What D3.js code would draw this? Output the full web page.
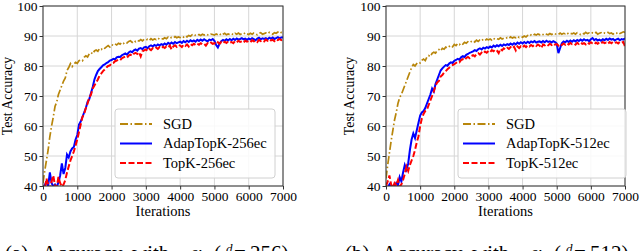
<!DOCTYPE html>
<html>
<head>
<meta charset="utf-8">
<script src="https://cdn.jsdelivr.net/npm/d3@7"></script>
<style>
  body { margin: 0; background: white; }
  svg text { font-family: "Liberation Serif", "Times New Roman", Times, "DejaVu Serif", serif; }
</style>
</head>
<body>
<svg id="chart" width="640" height="251"></svg>
<script>
// iterations sampled every 50 steps, 0..7000
const iterStep = 50
const xTicks = [0, 1000, 2000, 3000, 4000, 5000, 6000, 7000]
const yTicks = [40, 50, 60, 70, 80, 90, 100]
const serif = "'Liberation Serif', 'Times New Roman', Times, 'DejaVu Serif', serif"

// --- panel (a), 256ec ---
const sgdA = [
    41.0, 45.0, 48.5, 52.0, 56.5, 60.0, 63.0, 66.5, 68.0, 70.5,
    72.0, 73.5, 75.0, 76.0, 78.5, 79.5, 80.8, 79.8, 80.6, 81.2,
    80.9, 81.8, 82.0, 81.7, 82.9, 83.4, 83.0, 84.1, 84.5, 84.0,
    85.0, 85.3, 84.9, 85.8, 85.5, 86.2, 85.9, 86.4, 86.8, 86.3,
    87.1, 86.9, 87.4, 87.0, 87.6, 87.3, 87.9, 87.5, 88.0, 87.7,
    88.2, 88.4, 87.9, 88.5, 88.1, 88.6, 88.3, 88.8, 88.4, 88.9,
    88.6, 88.9, 88.5, 89.1, 88.7, 89.0, 88.8, 89.3, 88.9, 89.2,
    89.0, 89.4, 89.1, 89.6, 89.2, 89.5, 89.3, 89.8, 89.4, 89.7,
    89.5, 89.9, 89.6, 90.1, 89.7, 90.2, 89.9, 90.4, 90.0, 90.3,
    90.1, 90.5, 90.2, 90.6, 90.3, 90.7, 90.4, 90.2, 90.6, 90.5,
    90.3, 90.7, 90.4, 90.8, 90.2, 90.6, 90.9, 90.4, 90.7, 90.5,
    90.8, 90.4, 90.9, 90.6, 91.0, 90.5, 90.8, 90.6, 91.1, 90.7,
    90.5, 90.9, 90.6, 91.0, 90.7, 90.4, 90.9, 91.1, 90.6, 90.8,
    91.0, 90.7, 91.2, 90.8, 90.6, 91.1, 90.9, 91.3, 90.8, 91.2,
    91.0]
const adapA = [
    39.5, 40.2, 41.5, 40.0, 44.5, 41.0, 39.8, 40.5, 39.6, 41.2,
    43.5, 47.5, 44.0, 46.0, 50.5, 49.5, 51.5, 52.5, 53.0, 55.5,
    57.0, 60.5, 61.5, 63.0, 64.5, 66.0, 68.0, 69.0, 71.0, 73.0,
    75.5, 77.0, 78.3, 79.0, 79.6, 80.2, 80.5, 81.0, 81.3, 81.8,
    82.0, 82.4, 82.2, 82.9, 83.1, 83.0, 83.6, 83.9, 84.2, 83.8,
    84.5, 84.9, 84.6, 85.2, 85.5, 85.1, 85.8, 86.0, 85.6, 86.2,
    86.4, 85.9, 86.6, 86.9, 86.5, 87.0, 86.7, 87.2, 86.8, 87.3,
    87.0, 87.5, 87.1, 87.7, 87.3, 87.8, 87.4, 88.0, 87.6, 87.9,
    88.1, 87.7, 88.3, 87.9, 88.4, 88.0, 88.6, 88.2, 88.5, 88.1,
    88.7, 88.3, 88.8, 88.4, 88.9, 88.5, 88.2, 88.8, 88.6, 89.0,
    88.4, 87.0, 86.2, 87.5, 88.3, 88.7, 88.4, 88.9, 88.5, 89.0,
    88.6, 89.1, 88.7, 89.2, 88.8, 89.0, 89.3, 88.9, 89.1, 88.7,
    89.2, 88.8, 89.3, 89.0, 88.6, 89.1, 89.4, 88.9, 89.2, 89.0,
    89.3, 88.9, 89.4, 89.1, 89.5, 89.0, 89.3, 89.6, 89.2, 89.5,
    89.6]
const topkA = [
    40.0, 38.5, 42.5, 40.5, 39.0, 41.5, 43.5, 40.2, 39.5, 43.0,
    41.0, 39.8, 40.5, 42.0, 44.5, 46.5, 48.5, 50.0, 51.5, 53.5,
    55.5, 58.0, 60.5, 63.0, 64.0, 66.0, 67.5, 69.5, 70.5, 72.5,
    73.5, 74.5, 75.5, 76.8, 77.5, 78.3, 78.8, 79.5, 80.0, 80.2,
    80.9, 81.0, 81.6, 81.8, 82.2, 82.0, 82.6, 82.9, 83.2, 82.8,
    83.5, 83.8, 83.4, 84.1, 84.4, 84.0, 84.6, 83.2, 84.9, 85.2,
    85.5, 85.0, 85.7, 85.3, 85.9, 85.6, 86.1, 85.7, 86.3, 85.9,
    86.4, 86.0, 86.6, 86.2, 86.8, 85.5, 86.5, 86.9, 86.4, 87.0,
    86.8, 86.3, 87.1, 86.7, 87.2, 86.5, 87.3, 86.9, 87.4, 87.0,
    87.5, 87.1, 87.6, 87.2, 87.4, 86.8, 87.6, 87.3, 87.8, 87.4,
    87.6, 87.2, 87.9, 87.4, 88.0, 87.6, 88.1, 87.7, 88.2, 87.8,
    88.0, 87.6, 88.3, 87.9, 88.4, 88.0, 88.2, 87.8, 88.5, 88.1,
    88.3, 87.9, 88.6, 88.2, 88.5, 88.0, 88.7, 88.3, 88.6, 88.2,
    88.8, 88.4, 88.9, 88.5, 88.7, 88.3, 88.9, 88.6, 89.0, 88.6,
    88.8]

// --- panel (b), 512ec ---
const sgdB = [
    42.5, 47.0, 51.0, 55.0, 58.5, 62.0, 64.5, 67.5, 69.5, 70.5,
    72.0, 73.5, 75.0, 76.5, 78.0, 79.5, 80.5, 80.0, 80.8, 81.3,
    81.0, 81.9, 82.3, 81.8, 83.0, 83.5, 83.1, 84.2, 84.6, 84.3,
    85.2, 85.5, 85.0, 85.9, 85.6, 86.3, 86.0, 86.5, 86.9, 86.4,
    87.2, 86.8, 87.5, 87.1, 87.7, 87.3, 87.9, 87.6, 88.1, 87.8,
    88.2, 88.5, 88.0, 88.6, 88.2, 88.7, 88.4, 88.9, 88.5, 89.0,
    88.7, 89.0, 88.6, 89.2, 88.8, 89.1, 88.9, 89.4, 89.0, 89.3,
    89.1, 89.5, 89.2, 89.7, 89.3, 89.6, 89.4, 89.9, 89.5, 89.8,
    89.6, 90.0, 89.7, 90.2, 89.9, 90.4, 90.1, 90.6, 90.3, 90.7,
    90.4, 90.8, 90.5, 90.9, 90.6, 90.4, 90.8, 90.5, 90.9, 90.6,
    90.8, 90.5, 91.0, 90.6, 90.9, 90.7, 91.1, 90.6, 90.9, 90.7,
    91.0, 90.6, 91.1, 90.8, 90.5, 91.0, 90.7, 91.2, 90.8, 91.0,
    90.7, 91.1, 90.8, 91.2, 90.6, 90.9, 91.1, 90.7, 91.0, 90.8,
    91.2, 90.8, 91.0, 90.6, 91.1, 90.9, 91.3, 90.8, 91.1, 91.4,
    91.2]
const adapB = [
    39.0, 39.5, 40.5, 39.2, 40.0, 39.8, 41.0, 40.2, 43.0, 41.5,
    44.5, 47.0, 45.5, 47.5, 52.0, 55.5, 57.5, 56.0, 58.5, 61.0,
    63.5, 64.5, 65.0, 66.0, 67.5, 69.0, 70.5, 72.5, 71.5, 74.0,
    75.5, 77.0, 78.5, 79.2, 79.8, 80.3, 80.1, 80.8, 81.2, 81.0,
    81.7, 82.0, 82.4, 82.1, 82.9, 83.3, 83.0, 83.7, 84.0, 84.4,
    84.6, 84.9, 85.3, 85.0, 85.6, 85.9, 85.5, 86.1, 85.8, 86.3,
    86.0, 86.5, 86.2, 86.8, 86.4, 86.9, 86.6, 87.1, 86.7, 87.2,
    86.9, 87.3, 87.0, 87.5, 87.1, 87.6, 87.2, 87.8, 87.4, 87.9,
    87.5, 88.0, 87.6, 88.1, 87.7, 88.2, 87.9, 88.3, 87.8, 88.1,
    88.2, 87.8, 88.3, 87.9, 88.4, 88.0, 88.2, 87.8, 88.3, 88.0,
    87.5, 84.3, 86.0, 87.6, 88.2, 87.9, 88.4, 88.0, 88.5, 88.1,
    88.6, 88.2, 88.7, 88.3, 88.8, 88.4, 88.9, 88.5, 88.7, 88.3,
    88.9, 89.3, 88.6, 89.0, 88.5, 88.8, 88.4, 88.9, 88.6, 89.1,
    88.7, 89.2, 88.8, 89.0, 88.5, 88.9, 89.1, 88.6, 89.0, 88.8,
    89.2]
const topkB = [
    40.0, 41.5, 43.5, 40.5, 39.5, 41.0, 40.2, 42.0, 39.8, 40.5,
    42.0, 44.0, 46.5, 45.0, 47.0, 48.5, 50.0, 52.0, 54.5, 56.5,
    60.0, 62.5, 64.0, 65.0, 65.5, 67.0, 68.5, 70.0, 71.5, 73.5,
    74.5, 75.0, 76.5, 77.0, 77.8, 78.3, 78.9, 79.4, 80.0, 80.3,
    80.6, 81.0, 81.4, 81.2, 82.0, 82.3, 81.9, 82.7, 83.0, 82.6,
    83.3, 83.6, 83.2, 84.0, 84.3, 83.8, 84.5, 84.1, 84.8, 84.4,
    85.0, 84.6, 85.3, 84.9, 85.5, 85.1, 84.3, 85.7, 85.2, 85.9,
    85.5, 86.1, 85.7, 86.3, 85.8, 86.4, 85.2, 86.5, 86.0, 86.6,
    86.2, 86.8, 86.3, 86.9, 86.5, 87.0, 86.6, 87.1, 86.7, 87.2,
    86.8, 86.0, 87.2, 86.9, 87.3, 86.9, 87.4, 87.0, 87.5, 87.1,
    87.3, 86.8, 87.4, 87.0, 87.5, 87.1, 87.6, 87.2, 87.7, 87.3,
    87.5, 87.1, 87.7, 87.3, 87.8, 87.4, 87.6, 87.2, 87.8, 87.4,
    87.9, 87.5, 87.2, 87.8, 87.4, 87.9, 87.5, 88.0, 87.6, 87.8,
    87.4, 88.0, 87.6, 88.1, 87.7, 87.9, 87.5, 88.1, 87.8, 88.0,
    86.5]

const sgdColor = "#b8860b"
const adapColor = "#0000ff"
const topkColor = "#ff0000"

const panels = [
    {id: "a", left: 43, right: 283, ylabX: 8, off: 0, capTag: "(a)", k: "256",
        legX: 115, legW: 160, sgd: sgdA, adap: adapA, topk: topkA},
    {id: "b", left: 386, right: 625, ylabX: 350, off: 340, capTag: "(b)", k: "512",
        legX: 458, legW: 168, sgd: sgdB, adap: adapB, topk: topkB},
]
const plotTop = 6
const plotBottom = 186

const svg = d3.select("#chart").attr("font-family", serif)

function drawPanel(p) {
    const x = d3.scaleLinear().domain([0, 7000]).range([p.left, p.right])
    const y = d3.scaleLinear().domain([40, 100]).range([plotBottom, plotTop])
    const g = svg.append("g").attr("font-family", serif)

    g.append("clipPath").attr("id", "clip-" + p.id)
        .append("rect")
        .attr("x", p.left).attr("y", plotTop)
        .attr("width", p.right - p.left).attr("height", plotBottom - plotTop)

    // grid
    g.append("g").selectAll("line").data(xTicks).enter().append("line")
        .attr("x1", d => x(d)).attr("x2", d => x(d))
        .attr("y1", plotTop).attr("y2", plotBottom)
        .attr("stroke", "#d6d6d6").attr("stroke-width", 1)
    g.append("g").selectAll("line").data(yTicks).enter().append("line")
        .attr("y1", d => y(d)).attr("y2", d => y(d))
        .attr("x1", p.left).attr("x2", p.right)
        .attr("stroke", "#d6d6d6").attr("stroke-width", 1)

    const line = d3.line()
        .x((d, i) => x(i * iterStep))
        .y(d => y(d))

    const curves = g.append("g").attr("clip-path", `url(#clip-${p.id})`)
    curves.append("path").datum(p.sgd)
        .attr("d", line).attr("fill", "none")
        .attr("stroke", sgdColor).attr("stroke-width", 1.7)
        .attr("stroke-dasharray", "8,2.5,1.5,2.5")
    curves.append("path").datum(p.adap)
        .attr("d", line).attr("fill", "none")
        .attr("stroke", adapColor).attr("stroke-width", 2)
    curves.append("path").datum(p.topk)
        .attr("d", line).attr("fill", "none")
        .attr("stroke", topkColor).attr("stroke-width", 2)
        .attr("stroke-dasharray", "6,2.5")

    // axes
    const xAxis = g.append("g")
        .attr("transform", `translate(0,${plotBottom})`)
        .call(d3.axisBottom(x).tickValues(xTicks).tickSize(3.5).tickPadding(2).tickFormat(d3.format("d")))
    const yAxis = g.append("g")
        .attr("transform", `translate(${p.left},0)`)
        .call(d3.axisLeft(y).tickValues(yTicks).tickSize(3.5).tickPadding(2).tickFormat(d3.format("d")))
    for (const ax of [xAxis, yAxis]) {
        ax.attr("font-family", serif).attr("font-size", "13.5px")
        ax.select(".domain").remove()
        ax.selectAll("text")
            .attr("fill", "black")
        ax.selectAll("line").attr("stroke", "#333")
    }
    yAxis.selectAll("text").attr("dy", "0.34em")

    // frame
    g.append("rect")
        .attr("x", p.left).attr("y", plotTop)
        .attr("width", p.right - p.left).attr("height", plotBottom - plotTop)
        .attr("fill", "none").attr("stroke", "#333").attr("stroke-width", 1)

    // labels
    g.append("text")
        .attr("x", (p.left + p.right) / 2).attr("y", 216)
        .attr("text-anchor", "middle").attr("font-size", "14.5px")
        .text("Iterations")
    g.append("text")
        .attr("transform", `translate(${p.ylabX + 4},${(plotTop + plotBottom) / 2}) rotate(-90)`)
        .attr("text-anchor", "middle").attr("font-size", "13.8px")
        .text("Test Accuracy")

    // legend
    const leg = g.append("g")
    leg.append("rect")
        .attr("x", p.legX).attr("y", 109)
        .attr("width", p.legW).attr("height", 69)
        .attr("rx", 3).attr("ry", 3)
        .attr("fill", "white").attr("fill-opacity", 0.85)
        .attr("stroke", "#d0d0d0").attr("stroke-width", 1)
    const legItems = [
        {lab: "SGD", color: sgdColor, dash: "8,2.5,1.5,2.5", y: 124},
        {lab: `AdapTopK-${p.k}ec`, color: adapColor, dash: null, y: 143.5},
        {lab: `TopK-${p.k}ec`, color: topkColor, dash: "6,2.5", y: 163},
    ]
    leg.selectAll("line").data(legItems).enter().append("line")
        .attr("x1", p.legX + 5).attr("x2", p.legX + 37)
        .attr("y1", d => d.y).attr("y2", d => d.y)
        .attr("stroke", d => d.color).attr("stroke-width", 2)
        .attr("stroke-dasharray", d => d.dash)
    leg.selectAll("text").data(legItems).enter().append("text")
        .attr("x", p.legX + 48).attr("y", d => d.y)
        .attr("dy", "0.34em").attr("font-size", "14.5px")
        .text(d => d.lab)

    // caption (cut off by the frame bottom), words placed like the LaTeX caption
    const cap = g.append("text")
        .attr("y", 260)
        .attr("font-size", "21px")
    cap.append("tspan").attr("x", p.off + 5).text(p.capTag)
    cap.append("tspan").attr("x", p.off + 42).text("Accuracy")
    cap.append("tspan").attr("x", p.off + 132).text("with")
    cap.append("tspan").attr("x", p.off + 190).attr("font-style", "italic").text("α")
    cap.append("tspan").attr("x", p.off + 214).text("(")
    cap.append("tspan").attr("x", p.off + 226).attr("font-size", "13px")
        .attr("font-style", "italic").attr("dy", -7).text("d")
    cap.append("tspan").attr("x", p.off + 234).attr("dy", 7).text("=")
    cap.append("tspan").attr("x", p.off + 250).text(`${p.k})`)
}

panels.forEach(drawPanel)
</script>
</body>
</html>
